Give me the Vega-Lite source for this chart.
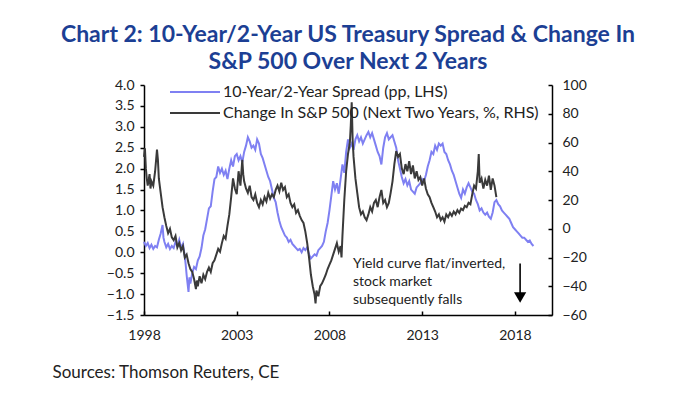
{
"$schema": "https://vega.github.io/schema/vega-lite/v6.json",
"width": 408, "height": 230,
"autosize": {"type": "none"},
"padding": {"left": 144, "top": 85, "right": 132, "bottom": 81},
"background": "white",
"config": {
 "view": {"stroke": null}, "font": "Lato",
 "axis": {"grid": false, "labelFlush": false, "domainColor": "black", "domainWidth": 1.5, "tickColor": "black", "tickWidth": 1.5, "labelFontSize": 14, "labelColor": "#222", "labelFont": "Lato"},
 "axisX": {"tickSize": -4, "labelPadding": 17, "titleFont": "Lato", "titleFontSize": 17, "titleFontWeight": "normal", "titleColor": "#222", "titleAlign": "left", "titleAnchor": "start", "titleX": -92, "titleY": 62, "titleBaseline": "alphabetic"},
 "axisLeft": {"tickSize": 4, "labelPadding": 6},
 "axisRight": {"tickSize": -4, "labelPadding": 14}
},
"title": {"text": ["Chart 2: 10-Year/2-Year US Treasury Spread & Change In", "S&P 500 Over Next 2 Years"], "font": "Lato", "fontSize": 23, "fontWeight": "bold", "color": "#1c3f94", "anchor": "middle", "lineHeight": 27, "offset": 4},
"datasets": {
"spread": [
{"t":1998.0,"v":0.25},{"t":1998.1,"v":0.15},{"t":1998.2,"v":0.22},{"t":1998.3,"v":0.1},{"t":1998.4,"v":0.18},{"t":1998.5,"v":0.08},{"t":1998.6,"v":0.15},{"t":1998.7,"v":0.12},{"t":1998.8,"v":0.3},{"t":1998.9,"v":0.45},{"t":1999.0,"v":0.65},{"t":1999.05,"v":0.35},{"t":1999.1,"v":0.25},{"t":1999.2,"v":0.12},{"t":1999.3,"v":0.2},{"t":1999.4,"v":0.08},{"t":1999.5,"v":0.15},{"t":1999.6,"v":0.1},{"t":1999.7,"v":0.25},{"t":1999.8,"v":0.15},{"t":1999.9,"v":0.3},{"t":2000.0,"v":0.1},{"t":2000.1,"v":0.2},{"t":2000.2,"v":-0.1},{"t":2000.25,"v":-0.3},{"t":2000.3,"v":-0.55},{"t":2000.35,"v":-0.75},{"t":2000.4,"v":-0.95},{"t":2000.45,"v":-0.6},{"t":2000.5,"v":-0.75},{"t":2000.6,"v":-0.5},{"t":2000.7,"v":-0.35},{"t":2000.8,"v":-0.4},{"t":2000.9,"v":-0.2},{"t":2001.0,"v":-0.1},{"t":2001.1,"v":0.1},{"t":2001.2,"v":0.4},{"t":2001.3,"v":0.55},{"t":2001.4,"v":0.8},{"t":2001.5,"v":1.05},{"t":2001.6,"v":1.1},{"t":2001.7,"v":1.45},{"t":2001.8,"v":1.75},{"t":2001.9,"v":1.8},{"t":2002.0,"v":2.05},{"t":2002.1,"v":1.9},{"t":2002.2,"v":2.0},{"t":2002.3,"v":1.85},{"t":2002.4,"v":1.95},{"t":2002.5,"v":1.75},{"t":2002.6,"v":2.0},{"t":2002.7,"v":2.2},{"t":2002.8,"v":2.05},{"t":2002.9,"v":2.3},{"t":2003.0,"v":2.35},{"t":2003.1,"v":2.2},{"t":2003.2,"v":2.3},{"t":2003.3,"v":2.15},{"t":2003.4,"v":2.4},{"t":2003.5,"v":2.55},{"t":2003.6,"v":2.75},{"t":2003.7,"v":2.65},{"t":2003.8,"v":2.5},{"t":2003.9,"v":2.55},{"t":2004.0,"v":2.45},{"t":2004.1,"v":2.7},{"t":2004.2,"v":2.6},{"t":2004.3,"v":2.35},{"t":2004.4,"v":2.25},{"t":2004.5,"v":2.1},{"t":2004.6,"v":1.95},{"t":2004.7,"v":1.8},{"t":2004.8,"v":1.7},{"t":2004.9,"v":1.5},{"t":2005.0,"v":1.3},{"t":2005.1,"v":1.2},{"t":2005.2,"v":0.95},{"t":2005.3,"v":0.75},{"t":2005.4,"v":0.6},{"t":2005.5,"v":0.5},{"t":2005.6,"v":0.4},{"t":2005.7,"v":0.35},{"t":2005.8,"v":0.25},{"t":2005.9,"v":0.3},{"t":2006.0,"v":0.2},{"t":2006.1,"v":0.15},{"t":2006.2,"v":0.1},{"t":2006.3,"v":0.05},{"t":2006.4,"v":0.08},{"t":2006.5,"v":0.0},{"t":2006.6,"v":0.1},{"t":2006.7,"v":0.05},{"t":2006.8,"v":0.12},{"t":2006.9,"v":-0.05},{"t":2007.0,"v":-0.15},{"t":2007.1,"v":-0.1},{"t":2007.2,"v":-0.05},{"t":2007.3,"v":-0.08},{"t":2007.4,"v":0.05},{"t":2007.5,"v":0.1},{"t":2007.6,"v":0.15},{"t":2007.7,"v":0.25},{"t":2007.8,"v":0.5},{"t":2007.9,"v":0.7},{"t":2008.0,"v":1.0},{"t":2008.1,"v":1.35},{"t":2008.2,"v":1.7},{"t":2008.3,"v":1.5},{"t":2008.4,"v":1.65},{"t":2008.5,"v":1.4},{"t":2008.6,"v":1.75},{"t":2008.7,"v":2.1},{"t":2008.8,"v":1.9},{"t":2008.9,"v":2.4},{"t":2009.0,"v":2.7},{"t":2009.1,"v":2.5},{"t":2009.2,"v":2.6},{"t":2009.3,"v":2.45},{"t":2009.4,"v":2.7},{"t":2009.5,"v":2.8},{"t":2009.6,"v":2.65},{"t":2009.7,"v":2.75},{"t":2009.8,"v":2.6},{"t":2009.9,"v":2.7},{"t":2010.0,"v":2.8},{"t":2010.1,"v":2.88},{"t":2010.2,"v":2.75},{"t":2010.3,"v":2.85},{"t":2010.4,"v":2.7},{"t":2010.5,"v":2.55},{"t":2010.6,"v":2.4},{"t":2010.7,"v":2.3},{"t":2010.8,"v":2.1},{"t":2010.9,"v":2.5},{"t":2011.0,"v":2.75},{"t":2011.1,"v":2.85},{"t":2011.2,"v":2.7},{"t":2011.3,"v":2.75},{"t":2011.4,"v":2.8},{"t":2011.5,"v":2.65},{"t":2011.6,"v":2.5},{"t":2011.7,"v":2.2},{"t":2011.8,"v":2.0},{"t":2011.9,"v":1.8},{"t":2012.0,"v":1.65},{"t":2012.1,"v":1.75},{"t":2012.2,"v":1.6},{"t":2012.3,"v":1.7},{"t":2012.4,"v":1.5},{"t":2012.5,"v":1.45},{"t":2012.6,"v":1.4},{"t":2012.7,"v":1.55},{"t":2012.8,"v":1.6},{"t":2012.9,"v":1.65},{"t":2013.0,"v":1.75},{"t":2013.1,"v":1.7},{"t":2013.2,"v":1.85},{"t":2013.3,"v":2.05},{"t":2013.4,"v":2.2},{"t":2013.5,"v":2.4},{"t":2013.6,"v":2.35},{"t":2013.7,"v":2.55},{"t":2013.8,"v":2.45},{"t":2013.9,"v":2.6},{"t":2014.0,"v":2.55},{"t":2014.1,"v":2.6},{"t":2014.2,"v":2.4},{"t":2014.3,"v":2.35},{"t":2014.4,"v":2.2},{"t":2014.5,"v":2.1},{"t":2014.6,"v":1.95},{"t":2014.7,"v":1.85},{"t":2014.8,"v":1.7},{"t":2014.9,"v":1.55},{"t":2015.0,"v":1.4},{"t":2015.1,"v":1.3},{"t":2015.2,"v":1.5},{"t":2015.3,"v":1.4},{"t":2015.4,"v":1.55},{"t":2015.5,"v":1.65},{"t":2015.6,"v":1.55},{"t":2015.7,"v":1.45},{"t":2015.8,"v":1.4},{"t":2015.9,"v":1.25},{"t":2016.0,"v":1.15},{"t":2016.1,"v":1.0},{"t":2016.2,"v":1.05},{"t":2016.3,"v":0.95},{"t":2016.4,"v":0.9},{"t":2016.5,"v":0.95},{"t":2016.6,"v":0.85},{"t":2016.7,"v":0.8},{"t":2016.8,"v":0.95},{"t":2016.9,"v":1.2},{"t":2017.0,"v":1.25},{"t":2017.1,"v":1.15},{"t":2017.2,"v":1.1},{"t":2017.3,"v":1.0},{"t":2017.4,"v":0.95},{"t":2017.5,"v":0.9},{"t":2017.6,"v":0.85},{"t":2017.7,"v":0.8},{"t":2017.8,"v":0.7},{"t":2017.9,"v":0.6},{"t":2018.0,"v":0.55},{"t":2018.1,"v":0.5},{"t":2018.2,"v":0.45},{"t":2018.3,"v":0.4},{"t":2018.4,"v":0.35},{"t":2018.5,"v":0.35},{"t":2018.6,"v":0.3},{"t":2018.7,"v":0.25},{"t":2018.8,"v":0.28},{"t":2018.9,"v":0.2},{"t":2019.0,"v":0.15}
],
"spx": [
{"t":1998.0,"v":50},{"t":1998.05,"v":56},{"t":1998.1,"v":42},{"t":1998.15,"v":35},{"t":1998.2,"v":30},{"t":1998.3,"v":38},{"t":1998.35,"v":28},{"t":1998.4,"v":33},{"t":1998.5,"v":30},{"t":1998.6,"v":40},{"t":1998.7,"v":55},{"t":1998.75,"v":48},{"t":1998.8,"v":35},{"t":1998.9,"v":25},{"t":1999.0,"v":15},{"t":1999.1,"v":8},{"t":1999.2,"v":2},{"t":1999.3,"v":-3},{"t":1999.4,"v":0},{"t":1999.5,"v":-6},{"t":1999.6,"v":-8},{"t":1999.7,"v":-5},{"t":1999.8,"v":-13},{"t":1999.9,"v":-10},{"t":2000.0,"v":-15},{"t":2000.1,"v":-12},{"t":2000.2,"v":-20},{"t":2000.3,"v":-18},{"t":2000.4,"v":-24},{"t":2000.5,"v":-28},{"t":2000.6,"v":-30},{"t":2000.7,"v":-35},{"t":2000.8,"v":-42},{"t":2000.85,"v":-36},{"t":2000.9,"v":-40},{"t":2001.0,"v":-33},{"t":2001.1,"v":-38},{"t":2001.2,"v":-32},{"t":2001.3,"v":-35},{"t":2001.4,"v":-30},{"t":2001.5,"v":-27},{"t":2001.6,"v":-30},{"t":2001.7,"v":-24},{"t":2001.8,"v":-22},{"t":2001.9,"v":-18},{"t":2002.0,"v":-14},{"t":2002.1,"v":-16},{"t":2002.2,"v":-10},{"t":2002.3,"v":-5},{"t":2002.4,"v":-7},{"t":2002.5,"v":2},{"t":2002.6,"v":10},{"t":2002.7,"v":22},{"t":2002.8,"v":35},{"t":2002.9,"v":28},{"t":2003.0,"v":24},{"t":2003.1,"v":40},{"t":2003.2,"v":30},{"t":2003.3,"v":48},{"t":2003.35,"v":38},{"t":2003.4,"v":33},{"t":2003.5,"v":28},{"t":2003.6,"v":25},{"t":2003.7,"v":30},{"t":2003.8,"v":22},{"t":2003.9,"v":20},{"t":2004.0,"v":24},{"t":2004.1,"v":18},{"t":2004.2,"v":15},{"t":2004.3,"v":20},{"t":2004.4,"v":17},{"t":2004.5,"v":22},{"t":2004.6,"v":19},{"t":2004.7,"v":25},{"t":2004.8,"v":21},{"t":2004.9,"v":24},{"t":2005.0,"v":22},{"t":2005.1,"v":27},{"t":2005.2,"v":30},{"t":2005.3,"v":26},{"t":2005.4,"v":32},{"t":2005.5,"v":27},{"t":2005.6,"v":29},{"t":2005.7,"v":22},{"t":2005.8,"v":24},{"t":2005.9,"v":18},{"t":2006.0,"v":15},{"t":2006.1,"v":17},{"t":2006.2,"v":11},{"t":2006.3,"v":13},{"t":2006.4,"v":9},{"t":2006.5,"v":6},{"t":2006.6,"v":4},{"t":2006.7,"v":-2},{"t":2006.8,"v":-10},{"t":2006.9,"v":-20},{"t":2007.0,"v":-32},{"t":2007.1,"v":-40},{"t":2007.2,"v":-46},{"t":2007.25,"v":-52},{"t":2007.3,"v":-43},{"t":2007.4,"v":-47},{"t":2007.5,"v":-40},{"t":2007.6,"v":-38},{"t":2007.7,"v":-35},{"t":2007.8,"v":-32},{"t":2007.9,"v":-28},{"t":2008.0,"v":-25},{"t":2008.1,"v":-22},{"t":2008.2,"v":-18},{"t":2008.3,"v":-14},{"t":2008.4,"v":-10},{"t":2008.5,"v":-16},{"t":2008.6,"v":-12},{"t":2008.65,"v":-20},{"t":2008.7,"v":-5},{"t":2008.8,"v":20},{"t":2008.9,"v":40},{"t":2009.0,"v":52},{"t":2009.1,"v":60},{"t":2009.15,"v":72},{"t":2009.2,"v":88},{"t":2009.25,"v":62},{"t":2009.3,"v":50},{"t":2009.4,"v":35},{"t":2009.5,"v":25},{"t":2009.6,"v":15},{"t":2009.7,"v":10},{"t":2009.8,"v":12},{"t":2009.9,"v":8},{"t":2010.0,"v":6},{"t":2010.1,"v":10},{"t":2010.2,"v":15},{"t":2010.3,"v":12},{"t":2010.4,"v":18},{"t":2010.5,"v":20},{"t":2010.6,"v":15},{"t":2010.7,"v":22},{"t":2010.8,"v":27},{"t":2010.9,"v":18},{"t":2011.0,"v":20},{"t":2011.1,"v":15},{"t":2011.2,"v":18},{"t":2011.3,"v":25},{"t":2011.4,"v":33},{"t":2011.5,"v":45},{"t":2011.6,"v":54},{"t":2011.7,"v":50},{"t":2011.8,"v":52},{"t":2011.9,"v":42},{"t":2012.0,"v":38},{"t":2012.1,"v":45},{"t":2012.2,"v":40},{"t":2012.3,"v":47},{"t":2012.4,"v":38},{"t":2012.5,"v":44},{"t":2012.6,"v":35},{"t":2012.7,"v":40},{"t":2012.8,"v":34},{"t":2012.9,"v":36},{"t":2013.0,"v":30},{"t":2013.1,"v":35},{"t":2013.2,"v":28},{"t":2013.3,"v":24},{"t":2013.4,"v":22},{"t":2013.5,"v":18},{"t":2013.6,"v":15},{"t":2013.7,"v":12},{"t":2013.8,"v":8},{"t":2013.9,"v":10},{"t":2014.0,"v":6},{"t":2014.1,"v":8},{"t":2014.2,"v":5},{"t":2014.3,"v":10},{"t":2014.4,"v":8},{"t":2014.5,"v":11},{"t":2014.6,"v":9},{"t":2014.7,"v":12},{"t":2014.8,"v":10},{"t":2014.9,"v":13},{"t":2015.0,"v":11},{"t":2015.1,"v":14},{"t":2015.2,"v":13},{"t":2015.3,"v":16},{"t":2015.4,"v":15},{"t":2015.5,"v":18},{"t":2015.6,"v":17},{"t":2015.7,"v":24},{"t":2015.8,"v":30},{"t":2015.9,"v":28},{"t":2016.0,"v":40},{"t":2016.05,"v":52},{"t":2016.1,"v":32},{"t":2016.2,"v":35},{"t":2016.3,"v":28},{"t":2016.4,"v":34},{"t":2016.5,"v":30},{"t":2016.6,"v":37},{"t":2016.7,"v":27},{"t":2016.8,"v":35},{"t":2016.9,"v":30},{"t":2017.0,"v":22}
],
"note": [{"t":2009.27,"v":-0.38,"label":["Yield curve flat/inverted,","stock market","subsequently falls"]}],
"arrow": [{"t":2018.28,"v":-0.27,"v2":-1.02}],
"head": [{"t":2018.28,"v":-1.08}]
},
"layer": [
{
"layer": [
{"data": {"name": "spread"}, "mark": {"type": "line", "strokeWidth": 2},
 "encoding": {
  "x": {"field": "t", "type": "quantitative", "title": "Sources: Thomson Reuters, CE", "scale": {"domain": [1998, 2020], "nice": false, "zero": false}, "axis": {"values": [1998, 2003, 2008, 2013, 2018], "format": "d"}},
  "y": {"field": "v", "type": "quantitative", "title": null, "scale": {"domain": [-1.5, 4], "nice": false, "zero": false}, "axis": {"values": [-1.5,-1,-0.5,0,0.5,1,1.5,2,2.5,3,3.5,4], "format": ".1f"}},
  "color": {"datum": "10-Year/2-Year Spread (pp, LHS)", "type": "nominal",
    "scale": {"domain": ["10-Year/2-Year Spread (pp, LHS)", "Change In S&P 500 (Next Two Years, %, RHS)"], "range": ["#7f80f2", "#3a3a3a"]},
    "legend": {"orient": "none", "legendX": 63, "legendY": -1, "title": null, "symbolType": "M-9,0H1", "symbolSize": 100, "symbolStrokeWidth": 2, "labelFontSize": 16, "labelFont": "Lato", "labelColor": "#222", "labelOffset": 0, "rowPadding": 5, "padding": 0, "labelLimit": 400}}
 }},
{"data": {"name": "note"}, "mark": {"type": "text", "align": "left", "baseline": "alphabetic", "fontSize": 14, "font": "Lato", "color": "#222", "lineHeight": 18},
 "encoding": {
  "x": {"field": "t", "type": "quantitative", "title": "Sources: Thomson Reuters, CE", "axis": {"values": [1998, 2003, 2008, 2013, 2018], "format": "d"}},
  "y": {"field": "v", "type": "quantitative", "title": null, "axis": {"values": [-1.5,-1,-0.5,0,0.5,1,1.5,2,2.5,3,3.5,4], "format": ".1f"}},
  "text": {"field": "label"}}},
{"data": {"name": "arrow"}, "mark": {"type": "rule", "strokeWidth": 1.6, "color": "black"},
 "encoding": {
  "x": {"field": "t", "type": "quantitative", "title": "Sources: Thomson Reuters, CE", "axis": {"values": [1998, 2003, 2008, 2013, 2018], "format": "d"}},
  "y": {"field": "v", "type": "quantitative", "title": null, "axis": {"values": [-1.5,-1,-0.5,0,0.5,1,1.5,2,2.5,3,3.5,4], "format": ".1f"}},
  "y2": {"field": "v2"}}},
{"data": {"name": "head"}, "mark": {"type": "point", "shape": "triangle-down", "filled": true, "size": 150, "color": "black", "opacity": 1},
 "encoding": {
  "x": {"field": "t", "type": "quantitative", "title": "Sources: Thomson Reuters, CE", "axis": {"values": [1998, 2003, 2008, 2013, 2018], "format": "d"}},
  "y": {"field": "v", "type": "quantitative", "title": null, "axis": {"values": [-1.5,-1,-0.5,0,0.5,1,1.5,2,2.5,3,3.5,4], "format": ".1f"}}}}
]
},
{"data": {"name": "spx"}, "mark": {"type": "line", "strokeWidth": 2},
 "encoding": {
  "x": {"field": "t", "type": "quantitative", "title": "Sources: Thomson Reuters, CE", "axis": {"values": [1998, 2003, 2008, 2013, 2018], "format": "d"}},
  "y": {"field": "v", "type": "quantitative", "title": null, "scale": {"domain": [-60, 100], "nice": false, "zero": false},
    "axis": {"orient": "right", "values": [-60,-40,-20,0,20,40,60,80,100]}},
  "color": {"datum": "Change In S&P 500 (Next Two Years, %, RHS)", "type": "nominal"}
 }}
],
"resolve": {"scale": {"y": "independent"}}
}
